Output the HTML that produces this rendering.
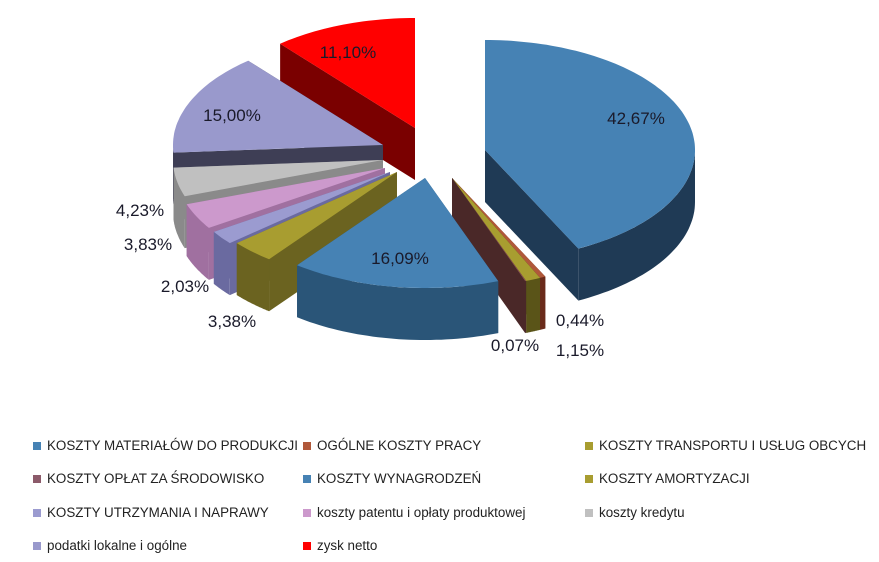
<!DOCTYPE html>
<html><head><meta charset="utf-8">
<style>
body{margin:0;background:#fff;font-family:"Liberation Sans",sans-serif;}
#wrap{position:relative;width:879px;height:562px;overflow:hidden;}
.lg{position:absolute;font-size:13.4px;color:#222;white-space:nowrap;line-height:16px;}
.lg i{display:inline-block;width:8px;height:8px;margin-right:6px;vertical-align:0px;}
</style></head><body>
<div id="wrap">
<svg id="pie" width="879" height="420" style="position:absolute;left:0;top:0"></svg>
<div id="legend"></div>
</div>
<script>
const categories=["KOSZTY MATERIAŁÓW DO PRODUKCJI","OGÓLNE KOSZTY PRACY","KOSZTY TRANSPORTU I USŁUG OBCYCH","KOSZTY OPŁAT ZA ŚRODOWISKO","KOSZTY WYNAGRODZEŃ","KOSZTY AMORTYZACJI","KOSZTY UTRZYMANIA I NAPRAWY","koszty patentu i opłaty produktowej","koszty kredytu","podatki lokalne i ogólne","zysk netto"];
const values=[42.67,0.44,1.15,0.07,16.09,3.38,2.03,3.83,4.23,15.00,11.10];
const labels=["42,67%","0,44%","1,15%","0,07%","16,09%","3,38%","2,03%","3,83%","4,23%","15,00%","11,10%"];
// styling
const topCol=["#4682b4","#b0583a","#a89d30","#8a5252","#4682b4","#a89d30","#9b9bd0","#cc99cc","#c0c0c0","#9999cc","#ff0000"];
const sideCol=["#1f3a55","#6a2a1a","#5a5418","#4a2828","#2a5578","#6b6320","#6a6aa0","#a070a0","#8a8a8a","#3e3e55","#7a0000"];
const offX=[55,22,22,22,-5,-33,-40,-45,-47,-47,-15];
const offY=[-35,-7,-7,-7,-7,-13,-13,-17,-25,-40,-57];
const labPos=[[636,118],[580,320],[580,350],[515,345],[400,258],[232,321],[185,286],[148,244],[140,210],[232,115],[348,52]];
const legPos=[[33,438],[303,438],[585,438],[33,471],[303,471],[585,471],[33,505],[303,505],[585,505],[33,538],[303,538]];
const CX=430,CY=185,RX=210,RY=110,DEPTH=52;
const svg=document.getElementById('pie');
const NS="http://www.w3.org/2000/svg";
const total=values.reduce((a,b)=>a+b,0);
function pt(px,py,a,dz){return [px+RX*Math.sin(a),py-RY*Math.cos(a)+(dz||0)];}
function mk(tag,attrs){const e=document.createElementNS(NS,tag);for(const k in attrs)e.setAttribute(k,attrs[k]);return e;}
let acc=0;const slices=[];
values.forEach((v,i)=>{const a0=acc/total*2*Math.PI;acc+=v;const a1=acc/total*2*Math.PI;slices.push({i,a0,a1,mid:(a0+a1)/2});});
const order=slices.slice().sort((s,t)=>(-Math.cos(s.mid))-(-Math.cos(t.mid)));
order.forEach(s=>{
  const i=s.i,px=CX+offX[i],py=CY+offY[i];
  const g=mk('g',{});
  
  
  const rad=[s.a0,s.a1].sort((a,b)=>(-Math.cos(a))-(-Math.cos(b)));
  rad.forEach(a=>{const r=pt(px,py,a);const p=mk('polygon',{points:`${px},${py} ${r[0]},${r[1]} ${r[0]},${r[1]+DEPTH} ${px},${py+DEPTH}`,fill:sideCol[i]});g.appendChild(p);});
  const b0=Math.max(s.a0,Math.PI/2),b1=Math.min(s.a1,3*Math.PI/2);
  if(b1>b0){let d='';const n=40;
    for(let k=0;k<=n;k++){const a=b0+(b1-b0)*k/n;const q=pt(px,py,a);d+=(k?'L':'M')+q[0].toFixed(1)+','+q[1].toFixed(1);}
    for(let k=n;k>=0;k--){const a=b0+(b1-b0)*k/n;const q=pt(px,py,a,DEPTH);d+='L'+q[0].toFixed(1)+','+q[1].toFixed(1);}
    g.appendChild(mk('path',{d:d+'Z',fill:sideCol[i]}));}
  let d=`M${px},${py}`;const n=Math.max(4,Math.ceil((s.a1-s.a0)*40));
  for(let k=0;k<=n;k++){const a=s.a0+(s.a1-s.a0)*k/n;const q=pt(px,py,a);d+='L'+q[0].toFixed(1)+','+q[1].toFixed(1);}
  g.appendChild(mk('path',{d:d+'Z',fill:topCol[i]}));
  svg.appendChild(g);
});
labels.forEach((t,i)=>{const e=mk('text',{x:labPos[i][0],y:labPos[i][1]+6,'text-anchor':'middle','font-size':'17','fill':'#1a1a2a','font-family':'Liberation Sans, sans-serif'});
  
  
  e.textContent=t;svg.appendChild(e);});
const leg=document.getElementById('legend');
categories.forEach((c,i)=>{const d=document.createElement('div');d.className='lg';
  
  
  d.style.left=legPos[i][0]+'px';d.style.top=legPos[i][1]+'px';
  const sq=document.createElement('i');sq.style.background=(i==3?'#8c5a6a':topCol[i]);
  d.appendChild(sq);d.appendChild(document.createTextNode(c));leg.appendChild(d);});
</script>
</body></html>
